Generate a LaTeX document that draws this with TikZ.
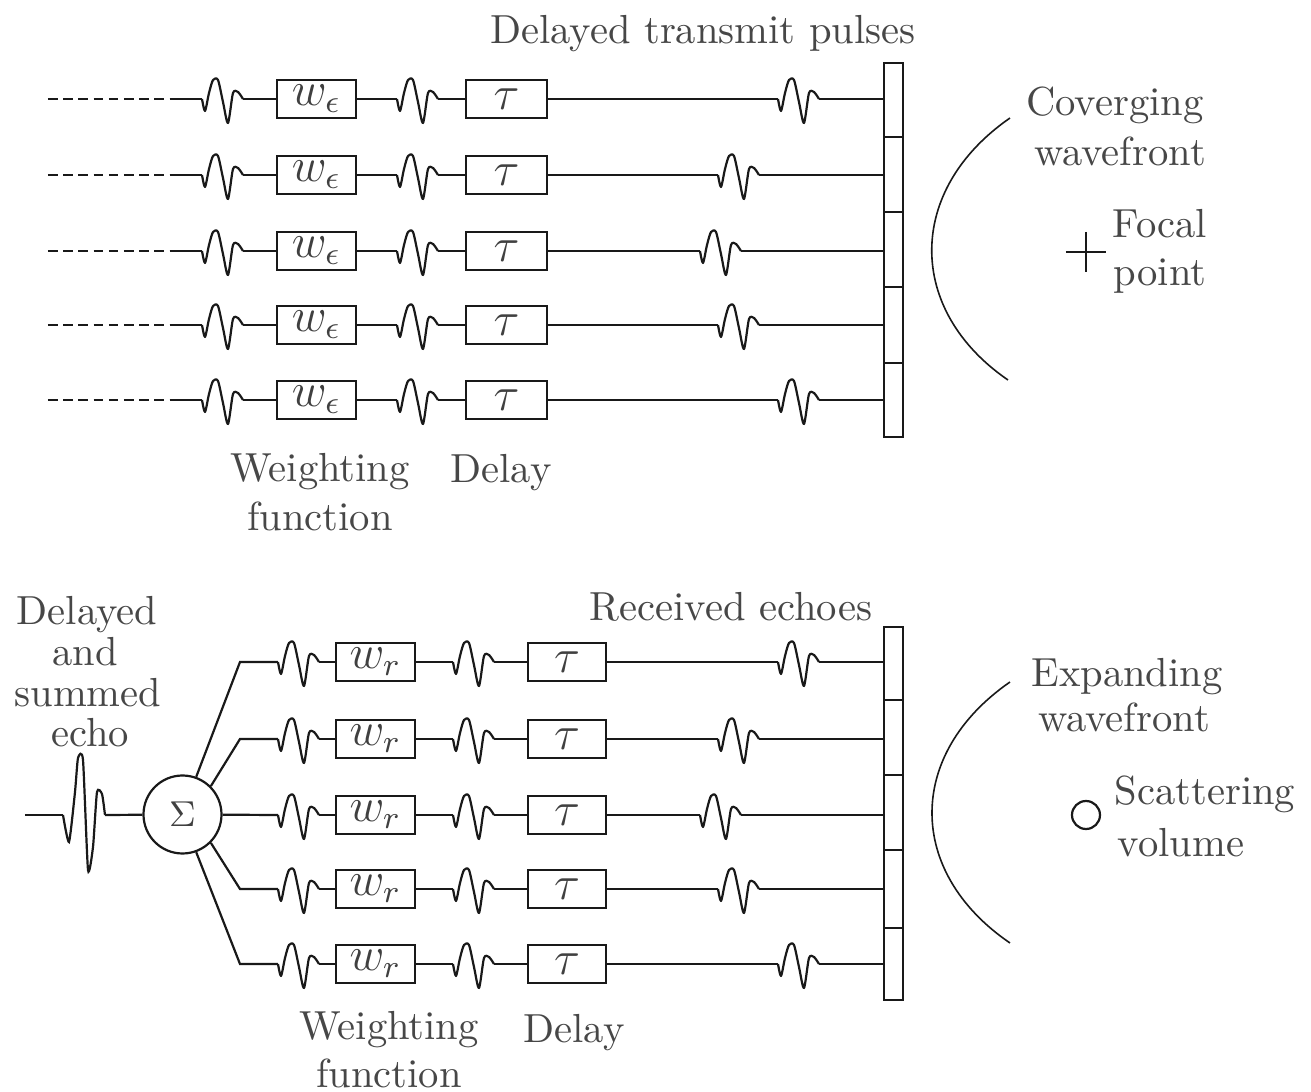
\documentclass[tikz,border=0pt]{standalone}
\tikzset{
  x=0.25pt,y=-0.25pt,
  line/.style={line width=0.55pt,black!90},
  thinarc/.style={line width=0.4pt,black!90},
  wtbox/.style={draw,line width=0.55pt,black!90,inner sep=0pt,minimum height=9.4pt,text=black!75},
  wtop/.style={wtbox,minimum width=19.75pt},
  ttop/.style={wtbox,minimum width=20.25pt},
  wbot/.style={wtbox,minimum width=19.75pt},
  tbot/.style={wtbox,minimum width=19.5pt},
  lbl/.style={inner sep=0pt,text=black!72,font=\fontsize{10.15}{12}\selectfont},
  elem/.style={inner sep=0pt,minimum width=4.75pt,minimum height=18.5pt},
  mth/.style={font=\fontsize{12}{14}\selectfont},
}
% small pulse: #1 x start, #2 y, #3 name
\newcommand{\pulse}[3]{%
  \coordinate (#3-a) at (#1,#2);
  \coordinate (#3-b) at (#1+41,#2);
  \draw[line,line join=round] plot[smooth,tension=0.45] coordinates {(#3-a) ([shift={(3,12)}]#3-a) ([shift={(7,-6)}]#3-a) ([shift={(11,-19)}]#3-a) ([shift={(16,-19)}]#3-a) ([shift={(21,3)}]#3-a) ([shift={(26,24)}]#3-a) ([shift={(31,-6)}]#3-a) ([shift={(36,-7)}]#3-a) (#3-b)};%
}
\begin{document}
\begin{tikzpicture}
\useasboundingbox (0,0) rectangle (1311,1092);
% ---------- transmit ----------
\foreach \r/\y/\xp in {1/99/778,2/175/718,3/251/700,4/325/718,5/400/778}{
  \coordinate (s\r) at (48,\y);
  \coordinate (d\r) at (170,\y);
  \pulse{202}{\y}{pa\r}
  \node[wtop,mth] (w\r) at (316.5,\y) {$w_\epsilon$};
  \pulse{397}{\y}{pb\r}
  \node[ttop,mth] (t\r) at (506.5,\y) {$\tau$};
  \pulse{\xp}{\y}{pc\r}
  \node[elem,anchor=west] (e\r) at (884,\y) {};
  \draw[line,dash pattern=on 2.4pt off 1.4pt] (s\r) -- (d\r);
  \draw[line] (d\r) -- (pa\r-a);
  \draw[line] (pa\r-b) -- (w\r);
  \draw[line] (w\r) -- (pb\r-a);
  \draw[line] (pb\r-b) -- (t\r);
  \draw[line] (t\r) -- (pc\r-a);
  \draw[line] (pc\r-b) -- (e\r);
}
\draw[line] (884,63) rectangle (903,437);
\foreach \y in {137,212,287,363} \draw[line] (884,\y) -- (903,\y);
\draw[thinarc] (1010,118) .. controls (906,190) and (906,310) .. (1008,380);
\draw[line] (1066,252) -- (1106,252) (1086,232) -- (1086,272);
\node[lbl] (n1) at (703,34) {Delayed transmit pulses};
\node[lbl] (n2) at (320,472) {Weighting};
\node[lbl] (n3) at (320,516) {function};
\node[lbl] (n4) at (501,473) {Delay};
\node[lbl] (n5) at (1115,105) {Coverging};
\node[lbl] (n6) at (1120,151) {wavefront};
\node[lbl] (n7) at (1160,224) {Focal};
\node[lbl] (n8) at (1160,276) {point};
% ---------- receive ----------
\node[circle,draw,line width=0.55pt,black!90,minimum size=19.5pt,inner sep=0pt,text=black!75] (sum) at (182.5,814.5) {\fontsize{9.5}{12}\selectfont$\Sigma$};
\foreach \r/\y/\xp in {1/662/778,2/739/718,3/815/700,4/889/718,5/964/778}{
  \pulse{278}{\y}{qa\r}
  \node[wbot,mth] (x\r) at (375.5,\y) {$w_r$};
  \pulse{453}{\y}{qb\r}
  \node[tbot,mth] (u\r) at (567,\y) {$\tau$};
  \pulse{\xp}{\y}{qc\r}
  \node[elem,anchor=west] (f\r) at (884,\y) {};
  \draw[line] (qa\r-b) -- (x\r);
  \draw[line] (x\r) -- (qb\r-a);
  \draw[line] (qb\r-b) -- (u\r);
  \draw[line] (u\r) -- (qc\r-a);
  \draw[line] (qc\r-b) -- (f\r);
}
\draw[line] (884,627) rectangle (903,1000);
\foreach \y in {700,775,850,928} \draw[line] (884,\y) -- (903,\y);
\coordinate (b1) at (240,662);
\coordinate (b2) at (240,739);
\coordinate (b4) at (240,889);
\coordinate (b5) at (240,964);
\draw[line] (sum.70) -- (b1) -- (qa1-a);
\draw[line] (sum.45) -- (b2) -- (qa2-a);
\draw[line] (sum) -- (qa3-a);
\draw[line] (sum.-45) -- (b4) -- (qa4-a);
\draw[line] (sum.-70) -- (b5) -- (qa5-a);
\coordinate (in) at (25,815);
\coordinate (bs) at (63,815);
\coordinate (be) at (105,815);
\draw[line] (in) -- (bs);
\draw[line] plot[smooth,tension=0.35] coordinates {(bs) (69,842) (75,792) (78,758) (83,760) (88,870) (93,847) (97,792) (102,794) (be)};
\draw[line] (be) -- (sum);
\draw[thinarc] (1010,682) .. controls (906,754) and (906,872) .. (1010,943);
\node[circle,draw,line width=0.55pt,black!90,minimum size=7pt,inner sep=0pt] (sv) at (1086,815) {};
\node[lbl] (m1) at (731,607) {Received echoes};
\node[lbl] (m2) at (87,615) {Delayed};
\node[lbl] (m3) at (85,652) {and};
\node[lbl] (m4) at (88,693) {summed};
\node[lbl] (m5) at (90,733) {echo};
\node[lbl] (m6) at (1127,677) {Expanding};
\node[lbl] (m7) at (1124,717) {wavefront};
\node[lbl] (m8) at (1205,794) {Scattering};
\node[lbl] (m9) at (1181,843) {volume};
\node[lbl] (m10) at (389,1030) {Weighting};
\node[lbl] (m11) at (389,1073) {function};
\node[lbl] (m12) at (574,1033) {Delay};
\end{tikzpicture}
\end{document}
